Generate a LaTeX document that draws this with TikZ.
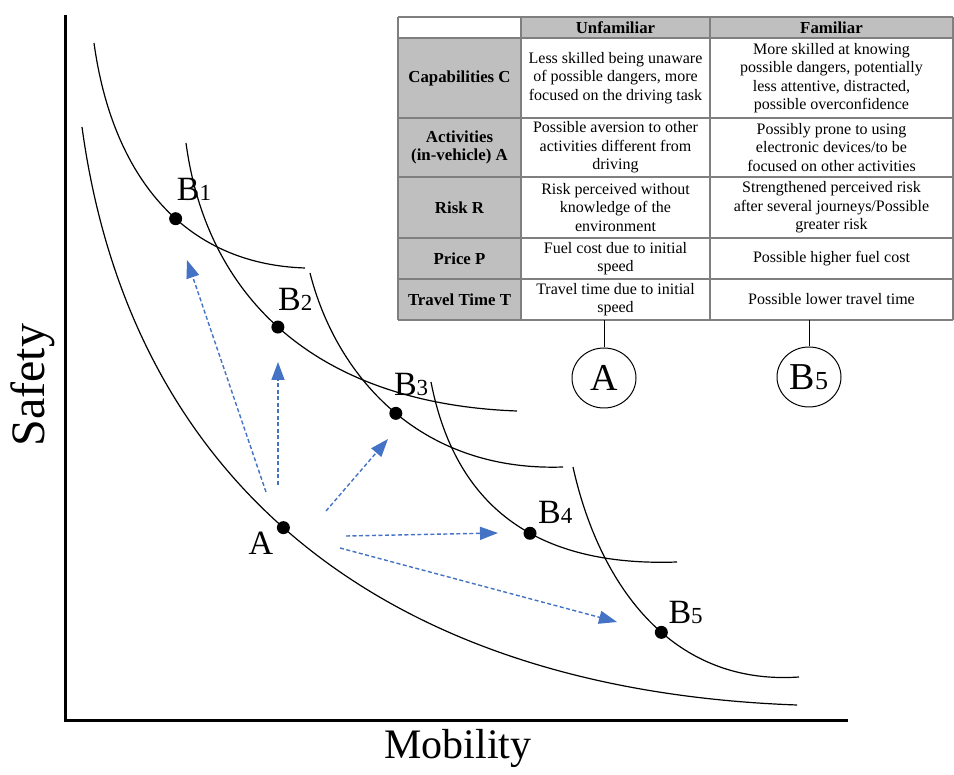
\documentclass[tikz,border=0pt]{standalone}
\usepackage{fontspec}
\setmainfont{Liberation Serif}
\usetikzlibrary{arrows.meta}
\usetikzlibrary{shapes.geometric}
\definecolor{moveblue}{HTML}{4472C4}
\definecolor{cellgray}{HTML}{BFBFBF}
\definecolor{rulegray}{HTML}{7F7F7F}
\newcommand{\Bsub}[1]{B{\fontsize{23}{23}\selectfont #1}}

\begin{document}
\begin{tikzpicture}[x=1pt,y=-1pt,
    curve/.style={line width=1.2pt},
    move/.style={moveblue, line width=1.4pt, dash pattern=on 4pt off 2.5pt,
      -{Triangle[length=18pt,width=13pt]}},
    cell/.style={align=center, inner sep=0pt, font=\fontsize{16}{18.5}\selectfont},
    headcell/.style={cell, font=\fontsize{16.8}{18.5}\selectfont\bfseries},
    ptlabel/.style={inner sep=0pt, font=\fontsize{34}{34}\selectfont},
    tag/.style={draw, ellipse, line width=1pt, minimum width=64pt, minimum height=60pt,
      inner sep=0pt, font=\fontsize{38}{38}\selectfont}
    ]
\useasboundingbox (0,0) rectangle (954,775);

% axes
\coordinate (top) at (65,15);
\coordinate (origin) at (65,720);
\coordinate (right) at (848,720);
\draw [line width=3pt] (top) -- (origin) -- (right);
\node [rotate=90, font=\fontsize{48}{48}\selectfont] (safety) at (33,385) {Safety};
\node [font=\fontsize{42}{42}\selectfont] (mobility) at (458,748) {Mobility};

% indifference curves, with the points on them
\draw [curve] (82,127) .. controls (130,480) and (380,690) .. (797,705) coordinate [pos=0.475] (a);
\draw [curve] (94,43) .. controls (112,174) and (182,264) .. (305,268) coordinate [pos=0.57] (b1);
\draw [curve] (186,143) .. controls (208,306) and (325,404) .. (517,411) coordinate [pos=0.47] (b2);
\draw [curve] (310,273) .. controls (335,372) and (416,472) .. (563,467) coordinate [pos=0.52] (b3);
\draw [curve] (431,382) .. controls (455,505) and (534,567) .. (677,562) coordinate [pos=0.58] (b4);
\draw [curve] (573,467) .. controls (598,580) and (668,686) .. (799,677) coordinate [pos=0.565] (b5);

\foreach \p in {a,b1,b2,b3,b4,b5}
  \fill (\p) circle (6.5);

\node [ptlabel, anchor=base east] (labA) at ([shift={(-10,27)}]a) {A};
\node [ptlabel, anchor=base west] (labB1) at ([shift={(1,-18)}]b1) {\Bsub{1}};
\node [ptlabel, anchor=base west] (labB2) at ([shift={(0,-17)}]b2) {\Bsub{2}};
\node [ptlabel, anchor=base west] (labB3) at ([shift={(-2,-18)}]b3) {\Bsub{3}};
\node [ptlabel, anchor=base west] (labB4) at ([shift={(8,-10)}]b4) {\Bsub{4}};
\node [ptlabel, anchor=base west] (labB5) at ([shift={(7,-9)}]b5) {\Bsub{5}};

% moves from A
\coordinate (m1s) at (266,492); \coordinate (m1e) at (187,260);
\coordinate (m2s) at (278,485); \coordinate (m2e) at (278,362);
\coordinate (m3s) at (326,511); \coordinate (m3e) at (388,439);
\coordinate (m4s) at (346,536); \coordinate (m4e) at (498,533);
\coordinate (m5s) at (340,548); \coordinate (m5e) at (617,622);
\foreach \i in {1,...,5}
  \draw [move] (m\i s) -- (m\i e);

% table
\fill [cellgray] (398,38) rectangle (521,320);
\fill [cellgray] (521,17) rectangle (953,38);
\foreach \y in {17,38,118,177,238,279,320}
  \draw [rulegray, line width=1.3pt] (398,\y) -- (953,\y);
\foreach \x in {398,521,710,953}
  \draw [rulegray, line width=1.3pt] (\x,17) -- (\x,320);

\node [headcell] (h1) at (615.5,27.5) {Unfamiliar};
\node [headcell] (h2) at (831.5,27.5) {Familiar};

\node [headcell] (r1) at (459.5,78) {Capabilities C};
\node [cell] (r1u) at (615.5,78) {Less skilled being unaware\\of possible dangers, more\\focused on the driving task};
\node [cell] (r1f) at (831.5,78) {More skilled at knowing\\possible dangers, potentially\\less attentive, distracted,\\possible overconfidence};

\node [headcell] (r2) at (459.5,147.5) {Activities\\(in-vehicle) A};
\node [cell] (r2u) at (615.5,147.5) {Possible aversion to other\\activities different from\\driving};
\node [cell] (r2f) at (831.5,147.5) {Possibly prone to using\\electronic devices/to be\\focused on other activities};

\node [headcell] (r3) at (459.5,207.5) {Risk R};
\node [cell] (r3u) at (615.5,207.5) {Risk perceived without\\knowledge of the\\environment};
\node [cell] (r3f) at (831.5,207.5) {Strengthened perceived risk\\after several journeys/Possible\\greater risk};

\node [headcell] (r4) at (459.5,258.5) {Price P};
\node [cell] (r4u) at (615.5,258.5) {Fuel cost due to initial\\speed};
\node [cell] (r4f) at (831.5,258.5) {Possible higher fuel cost};

\node [headcell] (r5) at (459.5,299.5) {Travel Time T};
\node [cell] (r5u) at (615.5,299.5) {Travel time due to initial\\speed};
\node [cell] (r5f) at (831.5,299.5) {Possible lower travel time};

% which column is which point
\coordinate (footU) at (604,320);
\coordinate (footF) at (809,320);
\node [tag] (tagA) at (604,378) {A};
\node [tag] (tagB5) at (809,377) {B{\fontsize{26}{26}\selectfont 5}};
\draw [line width=1pt] (footU) -- (tagA);
\draw [line width=1pt] (footF) -- (tagB5);
\end{tikzpicture}
\end{document}
